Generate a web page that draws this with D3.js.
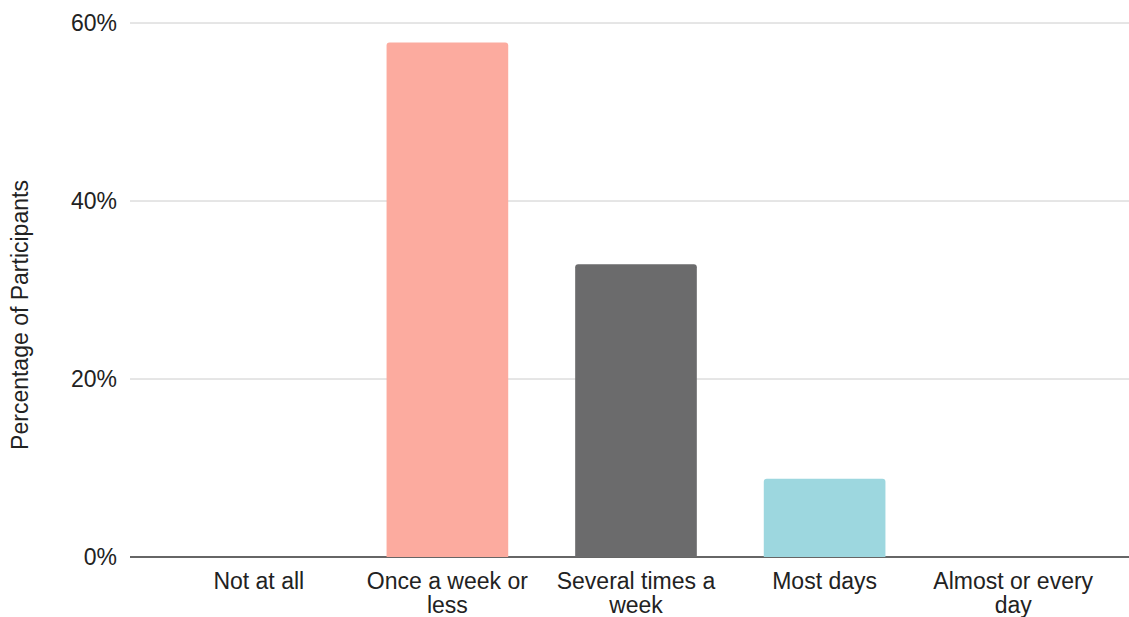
<!DOCTYPE html>
<head>
  <meta charset="utf-8">
  <script src="https://d3js.org/d3.v7.min.js"></script>
  <style>
    body { margin: 0; background: white; }
    text { font-family: "Liberation Sans", Arial, sans-serif; fill: #222; }
  </style>
</head>
<body>
  <svg width="1129" height="617"></svg>
  <script>
    const categories = ['Not at all', 'Once a week or less', 'Several times a week', 'Most days', 'Almost or every day'];
    const labelLines = [['Not at all'], ['Once a week or', 'less'], ['Several times a', 'week'], ['Most days'], ['Almost or every', 'day']];
    const values = [0, 57.8, 32.9, 8.8, 0];
    const colors = ['#fcab9f', '#fcab9f', '#6b6b6c', '#9dd7df', '#9dd7df'];
    const yTicks = [0, 20, 40, 60];

    const svg = d3.select('svg');
    const x = d3.scaleBand().domain(categories).range([164, 1108]).paddingInner(0.355).paddingOuter(0.18);
    const y = d3.scaleLinear().domain([0, 60]).range([557, 23]);

    svg.append('g').selectAll('line').data(yTicks).join('line')
      .attr('x1', 130).attr('x2', 1129)
      .attr('y1', d => y(d)).attr('y2', d => y(d))
      .attr('stroke', d => d === 0 ? '#333' : '#ccc')
      .attr('stroke-width', d => d === 0 ? 1.5 : 1);

    svg.append('g').selectAll('text').data(yTicks).join('text')
      .attr('x', 117).attr('y', d => y(d)).attr('dy', '0.35em')
      .attr('text-anchor', 'end').attr('font-size', 23)
      .text(d => d + '%');

    svg.append('g').selectAll('path').data(values).join('path')
      .attr('fill', (d, i) => colors[i])
      .attr('d', (d, i) => {
        if (d <= 0) return '';
        const x0 = x(categories[i]), w = x.bandwidth(), t = y(d), b = y(0), r = 3;
        return `M${x0},${b}V${t + r}Q${x0},${t} ${x0 + r},${t}H${x0 + w - r}Q${x0 + w},${t} ${x0 + w},${t + r}V${b}Z`;
      });

    const xl = svg.append('g').selectAll('text').data(categories).join('text')
      .attr('x', d => x(d) + x.bandwidth() / 2)
      .attr('y', 589).attr('text-anchor', 'middle').attr('font-size', 23);
    xl.selectAll('tspan').data((d, i) => labelLines[i]).join('tspan')
      .attr('x', function () { return this.parentNode.getAttribute('x'); })
      .attr('dy', (d, i) => i === 0 ? 0 : 24)
      .text(d => d);

    svg.append('text')
      .attr('transform', 'translate(28,315) rotate(-90)')
      .attr('text-anchor', 'middle').attr('font-size', 23)
      .text('Percentage of Participants');
  </script>
</body>
